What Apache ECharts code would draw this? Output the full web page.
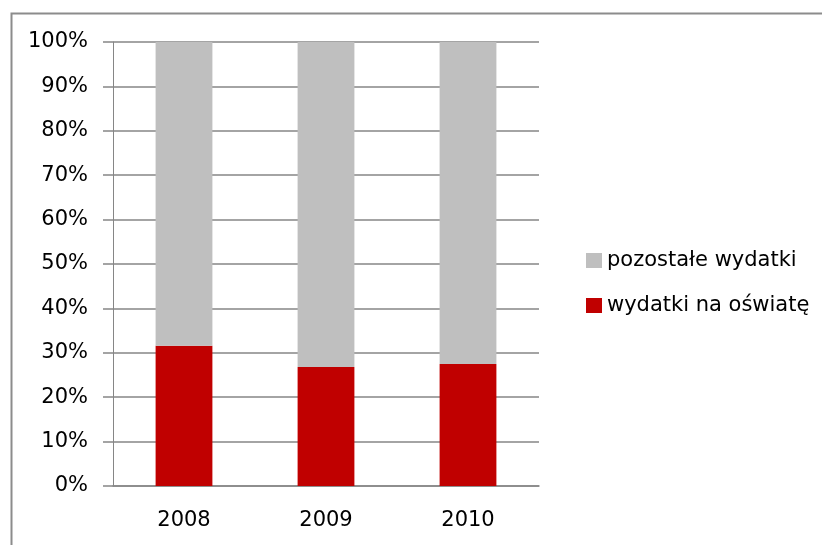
<!DOCTYPE html>
<html>
<head>
<meta charset="utf-8">
<script src="https://cdn.jsdelivr.net/npm/echarts@6/dist/echarts.min.js"></script>
<style>
  html, body { margin: 0; padding: 0; background: #fff; }
</style>
</head>
<body>
<div id="chart" style="width:822px;height:545px;"></div>
<script>
  // years and shares (percent of total spending)
  var years = ['2008', '2009', '2010']
  var educationShare = [31.6, 26.8, 27.5]
  var otherShare = [68.4, 73.2, 72.5]
  var legendNames = ['pozostałe wydatki', 'wydatki na oświatę']

  var font = 'DejaVu Sans'
  var chart = echarts.init(document.getElementById('chart'))

  chart.setOption({
    backgroundColor: '#fff',
    animation: false,
    graphic: [{
      type: 'rect',
      left: 9,
      top: 11,
      shape: { width: 900, height: 600 },
      style: { fill: 'none', stroke: '#8c8c8c', lineWidth: 2 },
      silent: true
    }],
    grid: {
      left: 113,
      right: 283,
      top: 42,
      bottom: 59
    },
    legend: {
      orient: 'vertical',
      left: 581,
      top: 245,
      itemWidth: 16,
      itemHeight: 15,
      itemGap: 24,
      icon: 'rect',
      textStyle: { fontFamily: font, fontSize: 21, color: '#000' },
      data: legendNames
    },
    xAxis: {
      type: 'category',
      data: years,
      axisLine: { lineStyle: { color: '#868686', width: 1.5 } },
      axisTick: { length: 10, lineStyle: { color: '#868686' } },
      axisLabel: { margin: 24, fontFamily: font, fontSize: 21, color: '#000' }
    },
    yAxis: {
      type: 'value',
      min: 0,
      max: 100,
      interval: 10,
      axisLine: { show: true, lineStyle: { color: '#868686', width: 1 } },
      axisTick: { show: true, length: 10, lineStyle: { color: '#868686', width: 1.5 } },
      splitLine: { lineStyle: { color: '#868686', width: 1.5 } },
      axisLabel: {
        margin: 25,
        fontFamily: font,
        fontSize: 21,
        color: '#000',
        formatter: '{value}%'
      }
    },
    series: [
      {
        name: 'wydatki na oświatę',
        type: 'bar',
        stack: 'total',
        barWidth: '40%',
        itemStyle: { color: '#C00000' },
        data: educationShare
      },
      {
        name: 'pozostałe wydatki',
        type: 'bar',
        stack: 'total',
        barWidth: '40%',
        itemStyle: { color: '#BFBFBF' },
        data: otherShare
      }
    ]
  })
</script>
</body>
</html>
